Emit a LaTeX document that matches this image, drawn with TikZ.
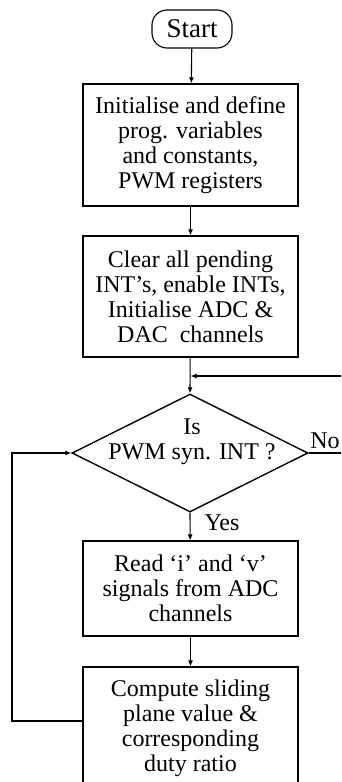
\documentclass[tikz,border=0pt]{standalone}
\usepackage{fontspec}
\setmainfont{Liberation Serif}
\usetikzlibrary{shapes.geometric,arrows.meta}
\begin{document}
\begin{tikzpicture}[x=1pt,y=-1pt,
  every node/.style={font=\fontsize{24}{25}\selectfont},
  box/.style={draw,line width=1.1pt,minimum width=215pt,align=center,inner sep=0pt},
  termbox/.style={draw,line width=1.1pt,minimum width=80pt,minimum height=38pt,rounded corners=15pt,inner sep=0pt,font=\fontsize{27}{29}\selectfont},
  decbox/.style={draw,shape=diamond,line width=1.4pt,minimum width=236pt,minimum height=118pt,inner sep=0pt},
  arr/.style={line width=1.1pt,-{Latex[length=6pt,width=5pt]}},
  ln/.style={line width=1.1pt}]
\useasboundingbox (0,0) rectangle (341,782);
\clip (0,0) rectangle (341,782);
\node[termbox] (st) at (192,29) {Start};
\node[box,minimum height=122pt] (b1) at (190.5,145) {Initialise and define\\prog. variables\\and constants,\\PWM registers};
\node[box,minimum height=121pt] (b2) at (190.5,296.5) {Clear all pending\\INT’s, enable INTs,\\Initialise ADC \&\\DAC\ \ channels};
\node[decbox] (d) at (190,453) {};
\node[align=center] (dt) at (192,442) {Is\\PWM syn. INT ?};
\node[box,minimum height=95pt] (b3) at (190.5,588.5) {Read ‘i’ and ‘v’\\signals from ADC\\channels};
\node[box,minimum height=122pt] (b4) at (190.5,728) {Compute sliding\\plane value \&\\corresponding\\duty ratio};
\node (no) at (325,441) {No};
\node (yes) at (222,523) {Yes};
\coordinate (mj) at (190.5,376);
\coordinate (nr) at (350,453);
\coordinate (lc) at (12,721);
\draw[arr] (st) -- (b1);
\draw[arr] (b1) -- (b2);
\draw[arr] (b2) -- (d.north);
\draw[arr] (d.east) -- (nr) |- (mj);
\draw[arr] (d.south) -- (b3);
\draw[arr] (b3) -- (b4);
\draw[arr] (b4.west |- lc) -- (lc) |- (d.west);
\end{tikzpicture}
\end{document}
